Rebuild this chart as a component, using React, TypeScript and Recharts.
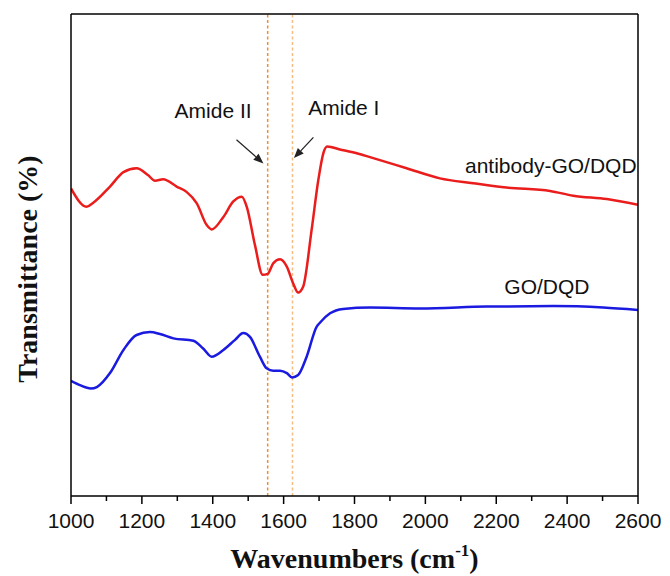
import {
  Line,
  LineChart,
  ReferenceDot,
  ReferenceLine,
  XAxis,
  YAxis,
} from 'recharts'

// FTIR spectra, transmittance in arbitrary units (0-100 on the hidden axis)
const redWavenumbers = [
  1000, 1044, 1062, 1110, 1148, 1185, 1217, 1237, 1260, 1298, 1326, 1355, 1383, 1397, 1430,
  1458, 1482, 1496, 1519, 1541, 1555, 1571, 1590, 1609, 1627, 1641, 1655, 1679, 1698, 1712,
  1723, 1759, 1811, 1853, 1947, 2041, 2135, 2229, 2352, 2417, 2512, 2600,
]
const redTransmittance = [
  63.8, 60.0, 60.8, 64.2, 67.2, 68.0, 66.6, 65.4, 65.7, 64.2, 63.1, 60.7, 56.2, 55.3, 57.9,
  61.1, 62.1, 60.0, 52.1, 45.9, 46.1, 48.3, 49.1, 47.6, 44.1, 42.2, 43.4, 55.2, 65.6, 71.1,
  72.5, 71.9, 71.0, 70.1, 68.0, 65.9, 64.9, 64.0, 63.3, 62.3, 61.6, 60.4,
]

const blueWavenumbers = [
  1000, 1025, 1056, 1073, 1110, 1148, 1185, 1223, 1251, 1289, 1345, 1373, 1397, 1430, 1463,
  1486, 1505, 1533, 1552, 1571, 1590, 1609, 1624, 1641, 1665, 1693, 1703, 1731, 1768, 1844,
  1985, 2173, 2361, 2502, 2600,
]
const blueTransmittance = [
  23.9, 23.0, 22.3, 22.6, 25.5, 30.3, 33.4, 34.0, 33.6, 32.7, 32.2, 30.6, 28.9, 30.3, 32.4,
  33.8, 33.0, 28.9, 26.5, 26.0, 26.0, 25.5, 24.6, 25.1, 28.9, 35.1, 36.0, 37.9, 38.8, 39.1,
  38.9, 39.3, 39.4, 39.1, 38.6,
]

const xTicks = [
  1000, 1100, 1200, 1300, 1400, 1500, 1600, 1700, 1800, 1900, 2000, 2100, 2200, 2300, 2400,
  2500, 2600,
]
const amideLines = [1555, 1625]

const redData = redWavenumbers.map((w, i) => ({ w, t: redTransmittance[i] }))
const blueData = blueWavenumbers.map((w, i) => ({ w, t: blueTransmittance[i] }))

const SANS = '"Liberation Sans", Arial, sans-serif'
const SERIF = '"Liberation Serif", "Times New Roman", serif'

const BottomTick = (props: any) => {
  const { x, y, payload } = props
  const major = payload.value % 200 === 0
  return (
    <g>
      <line x1={x} y1={y} x2={x} y2={y + (major ? 8 : 5)} stroke="#000" strokeWidth={1.5} />
      {major && (
        <text x={x} y={y + 32} textAnchor="middle" fontSize={21} fontFamily={SANS} fill="#111">
          {payload.value}
        </text>
      )}
    </g>
  )
}

const XTitle = (props: any) => {
  const { viewBox } = props
  const cx = viewBox.x + viewBox.width / 2
  return (
    <text x={cx} y={viewBox.y + 72} textAnchor="middle" fontFamily={SERIF} fontWeight="bold" fontSize={28} fill="#111">
      Wavenumbers (cm
      <tspan fontSize={17} dy={-12}>-1</tspan>
      <tspan dy={12}>)</tspan>
    </text>
  )
}

const YTitle = (props: any) => {
  const { viewBox } = props
  const x = viewBox.x + viewBox.width - 34
  const y = viewBox.y + viewBox.height / 2 + 14
  return (
    <text
      x={x}
      y={y}
      transform={`rotate(-90, ${x}, ${y})`}
      textAnchor="middle"
      fontFamily={SERIF}
      fontWeight="bold"
      fontSize={28}
      fill="#111"
    >
      Transmittance (%)
    </text>
  )
}

const Arrow = (props: any) => {
  const { x1, y1, x2, y2 } = props
  const ang = Math.atan2(y2 - y1, x2 - x1)
  const len = 10
  const half = 4
  const bx = x2 - len * Math.cos(ang)
  const by = y2 - len * Math.sin(ang)
  const px = -Math.sin(ang) * half
  const py = Math.cos(ang) * half
  return (
    <g>
      <line x1={x1} y1={y1} x2={bx} y2={by} stroke="#222" strokeWidth={1.2} />
      <polygon points={`${x2},${y2} ${bx + px},${by + py} ${bx - px},${by - py}`} fill="#222" />
    </g>
  )
}

const floatText = (text: string, anchor: 'middle' | 'end') => (props: any) => {
  const { viewBox } = props
  const cx = viewBox.x + viewBox.width / 2
  const cy = viewBox.y + viewBox.height / 2
  return (
    <text x={cx} y={cy + 7} textAnchor={anchor} fontSize={21} fontFamily={SANS} fill="#111">
      {text}
    </text>
  )
}

export default function App() {
  return (
    <div style={{ position: 'absolute', left: 0, top: 0, background: '#fff' }}>
      <LineChart width={670} height={576} margin={{ top: 13, right: 31, bottom: 40, left: 70 }}>
        <XAxis
          dataKey="w"
          type="number"
          domain={[1000, 2600]}
          ticks={xTicks}
          interval={0}
          height={40}
          tickSize={0}
          tickMargin={0}
          tickLine={false}
          tick={<BottomTick />}
          axisLine={{ stroke: '#000', strokeWidth: 1.5 }}
          allowDataOverflow
          label={<XTitle />}
        />
        <XAxis
          xAxisId="top"
          orientation="top"
          type="number"
          domain={[1000, 2600]}
          height={1}
          tick={false}
          tickLine={false}
          axisLine={{ stroke: '#000', strokeWidth: 1.5 }}
        />
        <YAxis
          yAxisId="left"
          type="number"
          domain={[0, 100]}
          width={1}
          tick={false}
          tickLine={false}
          axisLine={{ stroke: '#000', strokeWidth: 1.5 }}
          label={<YTitle />}
        />
        <YAxis
          yAxisId="right"
          orientation="right"
          type="number"
          domain={[0, 100]}
          width={1}
          tick={false}
          tickLine={false}
          axisLine={{ stroke: '#000', strokeWidth: 1.5 }}
        />

        <ReferenceLine yAxisId="left" x={amideLines[0]} stroke="#ef8f2a" strokeWidth={1.5} strokeDasharray="3 2.5" />
        <ReferenceLine yAxisId="left" x={amideLines[1]} stroke="#f6bd82" strokeWidth={1.5} strokeDasharray="3 2.5" />

        <Line
          yAxisId="left"
          data={redData}
          dataKey="t"
          type="monotone"
          stroke="#ea1c1c"
          strokeWidth={2.5}
          dot={false}
          isAnimationActive={false}
        />
        <Line
          yAxisId="left"
          data={blueData}
          dataKey="t"
          type="monotone"
          stroke="#1a1ae0"
          strokeWidth={2.5}
          dot={false}
          isAnimationActive={false}
        />

        <ReferenceLine
          yAxisId="left"
          segment={[{ x: 1467, y: 73.9 }, { x: 1543, y: 69.0 }]}
          shape={<Arrow />}
        />
        <ReferenceLine
          yAxisId="left"
          segment={[{ x: 1684, y: 74.4 }, { x: 1629, y: 70.1 }]}
          shape={<Arrow />}
        />

        <ReferenceDot yAxisId="left" x={1401} y={79.9} r={1} fill="none" stroke="none" label={floatText('Amide II', 'middle')} />
        <ReferenceDot yAxisId="left" x={1770} y={80.5} r={1} fill="none" stroke="none" label={floatText('Amide I', 'middle')} />
        <ReferenceDot yAxisId="left" x={2596} y={68.5} r={1} fill="none" stroke="none" label={floatText('antibody-GO/DQD', 'end')} />
        <ReferenceDot yAxisId="left" x={2343} y={43.4} r={1} fill="none" stroke="none" label={floatText('GO/DQD', 'middle')} />
      </LineChart>
    </div>
  )
}
